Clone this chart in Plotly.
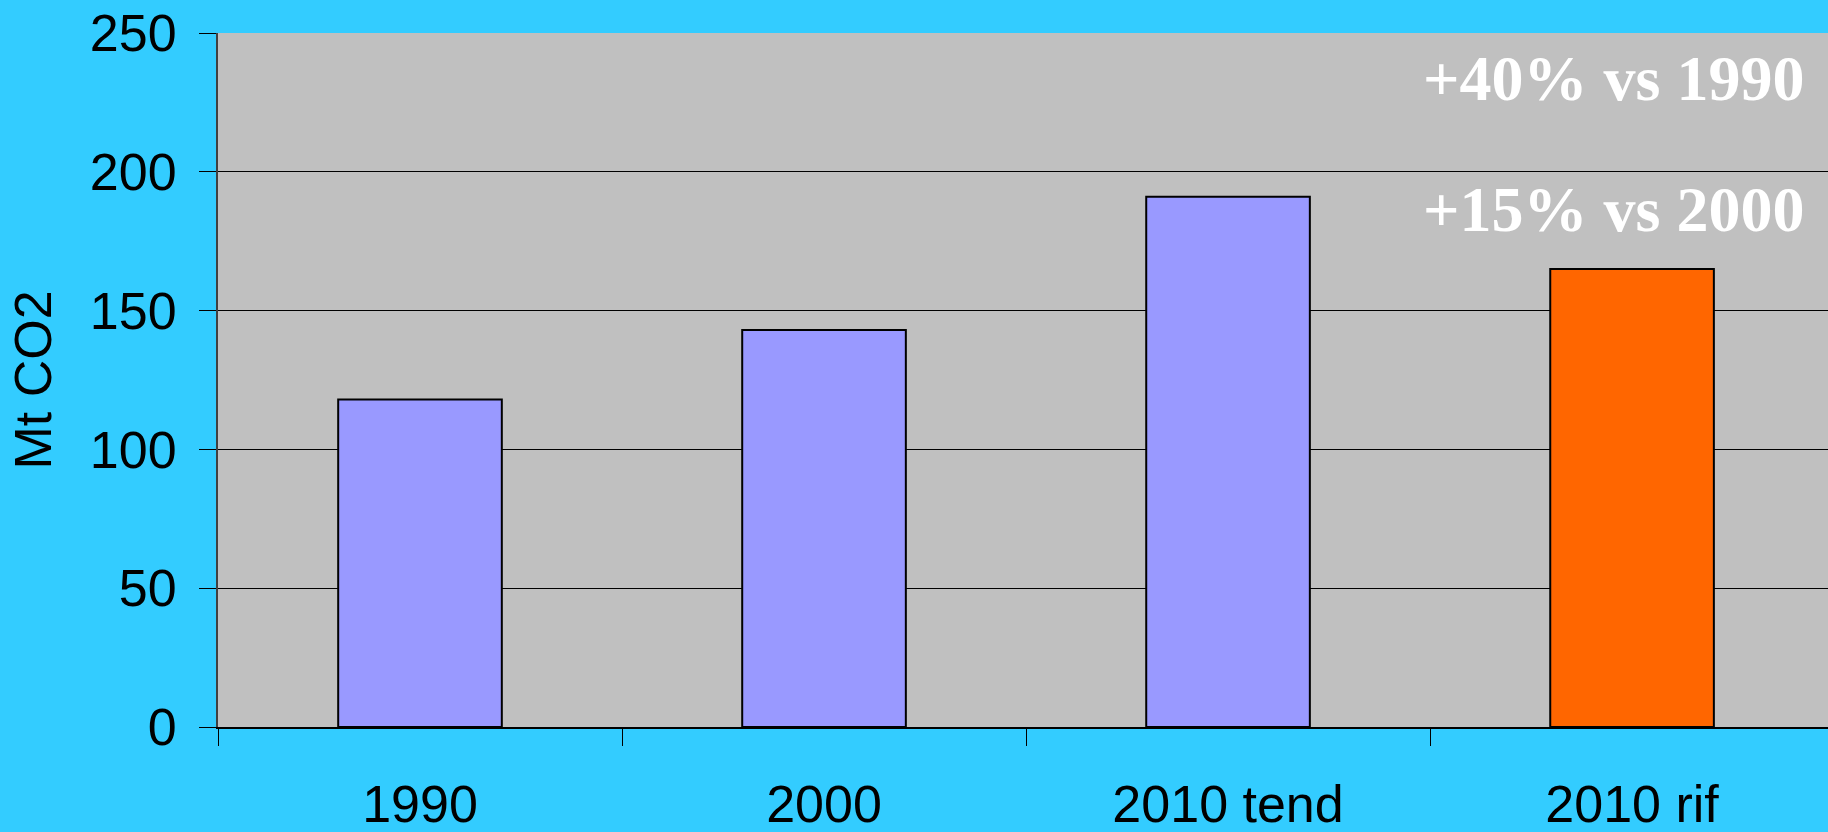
import plotly.graph_objects as go

# categories and values (Mt CO2)
categories = ["1990", "2000", "2010 tend", "2010 rif"]
values = [118, 143, 191, 165]
bar_colors = ["#9999FF", "#9999FF", "#9999FF", "#FF6600"]

# text notes shown on the right
notes = ["+40% vs 1990", "+15% vs 2000"]
note_y = [0.934, 0.745]

y_ticks = [0, 50, 100, 150, 200, 250]

fig = go.Figure()

fig.add_trace(
    go.Bar(
        x=categories,
        y=values,
        width=0.405,
        marker=dict(color=bar_colors, line=dict(color="black", width=2)),
        hoverinfo="x+y",
    )
)

for text, yy in zip(notes, note_y):
    fig.add_annotation(
        text=f"<b>{text}</b>",
        xref="paper",
        yref="paper",
        x=0.9865,
        y=yy,
        xanchor="right",
        yanchor="middle",
        showarrow=False,
        font=dict(family="Liberation Serif", size=64, color="white"),
    )

fig.update_layout(
    width=1828,
    height=832,
    paper_bgcolor="#33CCFF",
    plot_bgcolor="#C0C0C0",
    showlegend=False,
    margin=dict(l=218, r=0, t=33, b=105),
    font=dict(family="Liberation Sans", size=52, color="black"),
    xaxis=dict(
        type="category",
        range=[-0.5, 3.485],
        automargin=False,
        tickson="boundaries",
        ticks="outside",
        ticklen=17,
        tickcolor="black",
        tickwidth=1,
        ticklabelstandoff=31,
        showline=True,
        linecolor="black",
        linewidth=2,
        showgrid=False,
        tickfont=dict(size=52),
    ),
    yaxis=dict(
        range=[0, 250],
        automargin=False,
        tickvals=y_ticks,
        ticks="outside",
        ticklen=17,
        tickcolor="black",
        ticklabelstandoff=12,
        showline=True,
        linecolor="#404040",
        linewidth=2,
        showgrid=True,
        gridcolor="black",
        gridwidth=1,
        zeroline=False,
        tickfont=dict(size=52),
        title=dict(text="Mt CO2", font=dict(size=52), standoff=22),
    ),
)

# remove the default page margin so the chart fills the window
fig.write_html(
    "out.html",
    config={"displayModeBar": False},
    post_script="document.body.style.margin='0';",
)
